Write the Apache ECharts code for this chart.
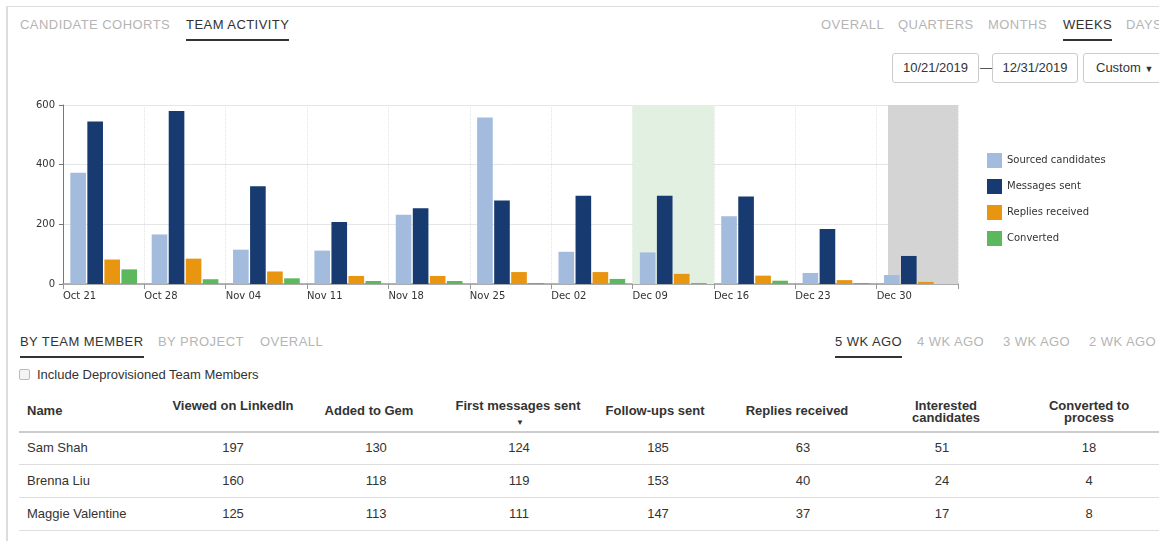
<!DOCTYPE html>
<html>
<head>
<meta charset="utf-8">
<script src="https://cdn.jsdelivr.net/npm/echarts@6/dist/echarts.min.js"></script>
<style>
  html, body { margin:0; padding:0; width:1159px; height:541px; overflow:hidden; background:#fff;
    font-family: "Liberation Sans", Arial, sans-serif; color:#333; }
  .abs { position:absolute; white-space:nowrap; }
  .tab { position:absolute; font-size:13px; letter-spacing:0.45px; color:#b5b5b5; line-height:16px; white-space:nowrap; }
  .tab.on { color:#333; }
  .tab.on::after { content:""; position:absolute; left:0; right:0; bottom:-8px; height:2px; background:#333; }
  .box { position:absolute; border:1px solid #ccc; border-radius:3px; font-size:13px; line-height:28px; text-align:center; color:#333; box-sizing:border-box; height:30px; }
  .c { position:absolute; transform:translateX(-50%); text-align:center; white-space:nowrap; }
  .th { font-weight:bold; font-size:13px; line-height:12px; color:#333; }
  .td { font-size:13px; line-height:14px; color:#333; }
  .hl { position:absolute; left:19px; right:0; height:1px; background:#ddd; }
  #chart { position:absolute; left:0; top:88px; width:1159px; height:225px; }
</style>
</head>
<body>
<div class="abs" style="left:7px; top:6px; right:0; height:1px; background:#ddd;"></div>
<div class="abs" style="left:6px; top:6px; width:2px; bottom:0; background:#ddd;"></div>

<div class="tab" style="left:20px; top:17px;">CANDIDATE COHORTS</div>
<div class="tab on" style="left:186px; top:17px;">TEAM ACTIVITY</div>

<div class="tab" style="left:821px; top:17px;">OVERALL</div>
<div class="tab" style="left:898px; top:17px;">QUARTERS</div>
<div class="tab" style="left:988px; top:17px;">MONTHS</div>
<div class="tab on" style="left:1063px; top:17px;">WEEKS</div>
<div class="tab" style="left:1126px; top:17px;">DAYS</div>

<div class="box" style="left:892px; top:53px; width:87px;">10/21/2019</div>
<div class="abs" style="left:980px; top:60px; font-size:13px; color:#555;">—</div>
<div class="box" style="left:992px; top:53px; width:86px;">12/31/2019</div>
<div class="box" style="left:1083px; top:53px; width:90px; text-align:left; padding-left:12px;">Custom <span style="font-size:9px;">▼</span></div>

<div id="chart"></div>

<div class="tab on" style="left:20px; top:334px;">BY TEAM MEMBER</div>
<div class="tab" style="left:158px; top:334px;">BY PROJECT</div>
<div class="tab" style="left:260px; top:334px;">OVERALL</div>
<div class="tab on" style="left:835px; top:334px;">5 WK AGO</div>
<div class="tab" style="left:917px; top:334px;">4 WK AGO</div>
<div class="tab" style="left:1003px; top:334px;">3 WK AGO</div>
<div class="tab" style="left:1089px; top:334px;">2 WK AGO</div>

<div class="abs" style="left:19px; top:369px; width:9px; height:9px; border:1px solid #bbb; border-radius:2px; background:#f4f4f4;"></div>
<div class="abs" style="left:37px; top:367px; font-size:13px; color:#333;">Include Deprovisioned Team Members</div>

<div id="table"></div>
<div class="abs" style="left:19px; right:0; top:431px; height:2px; background:#ccc;"></div>

<script>
// ---- chart data ----
const weeks = ['Oct 21','Oct 28','Nov 04','Nov 11','Nov 18','Nov 25','Dec 02','Dec 09','Dec 16','Dec 23','Dec 30'];
const sourcedCandidates = [373, 166, 115, 112, 232, 558, 108, 106, 227, 37, 30];
const messagesSent      = [545, 580, 328, 208, 254, 280, 296, 296, 293, 184, 94];
const repliesReceived   = [82, 85, 42, 27, 27, 40, 40, 34, 28, 13, 7];
const converted         = [49, 16, 19, 10, 10, 3, 17, 3, 11, 3, 0];
const yTicks = [0, 200, 400, 600];

// ---- table data ----
const tableHeaders = ['Viewed on LinkedIn','Added to Gem','First messages sent','Follow-ups sent','Replies received','Interested candidates','Converted to process'];
const memberNames = ['Sam Shah','Brenna Liu','Maggie Valentine'];
const viewedOnLinkedIn = [197, 160, 125];
const addedToGem = [130, 118, 113];
const firstMessagesSent = [124, 119, 111];
const followUpsSent = [185, 153, 147];
const repliesCol = [63, 40, 37];
const interestedCandidates = [51, 24, 17];
const convertedToProcess = [18, 4, 8];

// build table (HTML)
(function(){
  const t = document.getElementById('table');
  let h = '';
  h += '<div class="abs th" style="left:27px; top:405px;">Name</div>';
  const hdr = [
    {x:233, y:400, t:'Viewed on LinkedIn'},
    {x:369, y:405, t:'Added to Gem'},
    {x:518, y:400, t:'First messages sent'},
    {x:655, y:405, t:'Follow-ups sent'},
    {x:797, y:405, t:'Replies received'},
    {x:946, y:400, t:'Interested<br>candidates'},
    {x:1089, y:400, t:'Converted to<br>process'}
  ];
  hdr.forEach(o => { h += '<div class="c th" style="left:'+o.x+'px; top:'+o.y+'px;">'+o.t+'</div>'; });
  h += '<div class="c" style="left:520px; top:418px; font-size:8px; color:#333;">▼</div>';
  const cols = [viewedOnLinkedIn, addedToGem, firstMessagesSent, followUpsSent, repliesCol, interestedCandidates, convertedToProcess];
  const colX = [233, 376, 519, 658, 803, 942, 1089];
  const rowY = [441, 474, 507];
  memberNames.forEach((n, r) => {
    h += '<div class="abs td" style="left:27px; top:'+rowY[r]+'px;">'+n+'</div>';
    cols.forEach((c, i) => { h += '<div class="c td" style="left:'+colX[i]+'px; top:'+rowY[r]+'px;">'+c[r]+'</div>'; });
  });
  [464, 497, 530].forEach(y => { h += '<div class="hl" style="top:'+y+'px;"></div>'; });
  t.innerHTML = h;
})();

const chart = echarts.init(document.getElementById('chart'), null, {renderer:'canvas'});
const labelFont = { fontFamily:'DejaVu Sans', fontSize:10, color:'#333' };
const barItem = (c) => ({ color:c });
chart.setOption({
  animation:false,
  grid:{ left:63, top:17, width:895, height:179, containLabel:false },
  legend:{
    orient:'vertical', left:987, top:65, padding:0, itemWidth:15, itemHeight:15, itemGap:11, icon:'rect',
    textStyle:{ fontFamily:'DejaVu Sans', fontSize:10, color:'#333' },
    data:['Sourced candidates','Messages sent','Replies received','Converted']
  },
  xAxis:[
    { type:'category', data:weeks, boundaryGap:true,
      axisLine:{show:false}, axisTick:{show:false}, axisLabel:{show:false}, splitLine:{show:false} },
    { type:'value', min:0, max:weeks.length, interval:1, position:'bottom',
      axisLine:{ show:true, lineStyle:{ color:'#999', width:1.5 } },
      axisTick:{ show:true, length:5, lineStyle:{ color:'#999' } },
      axisLabel:{ ...labelFont, align:'left', margin:7, formatter:(v)=> weeks[v] || '' },
      splitLine:{ show:true, lineStyle:{ color:'#e4e4e4', type:'dotted' } } }
  ],
  yAxis:{ type:'value', min:0, max:600, interval:200,
    axisLine:{ show:true, lineStyle:{ color:'#777' } },
    axisTick:{ show:true, length:4, lineStyle:{ color:'#777' } },
    axisLabel:{ ...labelFont, margin:8, formatter:(v)=> yTicks.includes(v) ? String(v) : '' },
    splitLine:{ show:true, lineStyle:{ color:'#e6e6e6' } } },
  series:[
    { type:'line', xAxisIndex:1, data:[], z:0, silent:true, showSymbol:false,
      markArea:{ silent:true, data:[
        [ { xAxis:7, itemStyle:{ color:'#e2f0e2' } }, { xAxis:8 } ],
        [ { xAxis:10.14, itemStyle:{ color:'#d4d4d4' } }, { xAxis:11 } ]
      ] } },
    { name:'Sourced candidates', type:'bar', data:sourcedCandidates, itemStyle:barItem('#a3bbdd'), barCategoryGap:'18%', barGap:'9%' },
    { name:'Messages sent', type:'bar', data:messagesSent, itemStyle:barItem('#173a70'), barCategoryGap:'18%', barGap:'9%' },
    { name:'Replies received', type:'bar', data:repliesReceived, itemStyle:barItem('#e8950f'), barCategoryGap:'18%', barGap:'9%' },
    { name:'Converted', type:'bar', data:converted, itemStyle:barItem('#5cb85c'), barCategoryGap:'18%', barGap:'9%' }
  ]
});
chart.setOption({ legend:{ itemGap: 11 } });
</script>
</body>
</html>
